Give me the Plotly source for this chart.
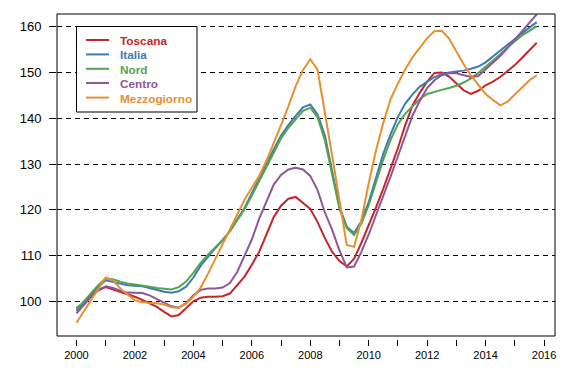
import plotly.graph_objects as go

# quarterly periods 2000Q1 .. 2015Q4
years = [2000 + q / 4 for q in range(64)]

toscana = [98.5, 99.8, 101.2, 102.4, 103.1, 102.6, 102.1, 101.6,
           101.0, 100.3, 99.6, 98.8, 97.7, 96.7, 97.0, 98.4,
           100.0, 100.8, 101.0, 101.0, 101.1, 101.7, 103.5, 105.4,
           108.0, 110.8, 114.6, 118.4, 120.9, 122.4, 122.8, 121.6,
           120.2, 117.3, 113.8, 110.8, 108.8, 107.6, 109.3, 112.8,
           116.5, 120.5, 124.6, 129.0, 133.5, 138.5, 142.8, 145.6,
           148.0, 149.9, 150.0, 149.1, 147.6, 146.1, 145.3, 146.0,
           147.2, 148.0, 149.0, 150.2, 151.6, 153.2, 154.9, 156.5]

italia = [97.9, 99.7, 101.4, 103.2, 104.6, 104.2, 103.8, 103.5,
          103.4, 103.3, 102.9, 102.5, 102.1, 101.9, 102.2, 103.2,
          105.2, 107.8, 109.8, 111.6, 113.3, 115.4, 117.9, 120.4,
          123.6, 126.9, 130.1, 133.2, 136.2, 138.5, 140.5, 142.4,
          143.0, 140.8, 136.2, 128.6, 120.6, 116.3, 114.9, 117.5,
          121.7, 127.0, 132.3, 136.5, 140.3, 143.2, 145.2, 146.9,
          148.0, 149.0, 149.6, 150.0, 150.2, 150.4, 150.8, 151.3,
          152.2, 153.5, 154.8, 156.2, 157.5, 158.6, 159.8, 161.0]

nord = [98.2, 100.0, 101.8, 103.6, 105.0, 104.8, 104.3, 103.9,
        103.7, 103.5, 103.2, 102.9, 102.7, 102.6, 103.1, 104.3,
        106.2, 108.4, 110.2, 111.8, 113.4, 115.3, 117.6, 120.1,
        123.1, 126.3, 129.5, 132.6, 135.6, 137.9, 139.8, 141.6,
        142.3, 140.2, 135.2, 127.8, 120.2, 116.0, 114.5, 117.0,
        121.0, 126.0, 131.0, 135.3, 138.7, 141.0, 142.7, 144.2,
        145.3, 145.8, 146.2, 146.6, 147.1, 147.8, 148.7, 149.9,
        151.2, 152.6, 154.0, 155.5, 156.9, 158.1, 159.1, 160.1]

centro = [97.4, 99.3, 101.0, 102.5, 103.3, 102.9, 102.3, 101.9,
          101.9, 101.8, 101.3, 100.5, 99.7, 98.9, 98.6, 99.6,
          101.3, 102.5, 102.8, 102.8, 103.0, 104.0, 106.4, 109.8,
          113.5, 118.0, 121.8, 125.5, 127.6, 128.8, 129.2, 128.8,
          127.4, 124.3, 119.4, 115.6, 111.1, 107.4, 107.6, 110.8,
          114.6, 118.7, 123.0, 127.3, 131.7, 136.3, 140.6, 143.8,
          146.6, 148.3, 149.4, 149.8, 149.8, 149.4, 149.0, 149.2,
          150.6, 152.2, 153.6, 155.3, 157.2, 159.0, 160.9, 162.7]

mezzogiorno = [95.3, 97.8, 100.0, 102.7, 105.2, 104.6, 102.8, 101.5,
               100.2, 99.8, 99.7, 99.6, 99.3, 98.7, 98.6, 99.5,
               101.0, 103.0, 106.0, 109.2, 112.3, 115.5, 118.7, 122.2,
               124.8, 127.4, 130.7, 134.4, 138.5, 142.6, 147.0, 150.5,
               152.9, 150.6, 141.5, 131.8, 122.0, 112.3, 111.9, 117.8,
               125.8, 133.0, 139.0, 144.2, 147.6, 150.7, 153.3, 155.5,
               157.5, 159.0, 159.1, 157.4, 154.5, 151.8, 149.3, 147.2,
               145.3, 144.0, 142.8, 143.6, 145.2, 146.9, 148.3, 149.4]

series_names = ["Toscana", "Italia", "Nord", "Centro", "Mezzogiorno"]
series_values = [toscana, italia, nord, centro, mezzogiorno]
series_colors = ["#C4272B", "#3C7DB0", "#55A352", "#8E5799", "#E8902E"]

x_tick_vals = list(range(2000, 2017, 2))
y_tick_vals = [100, 110, 120, 130, 140, 150, 160]

FONT = "Liberation Sans, Arial, sans-serif"

W, H = 570, 380
ML, MR, MT, MB = 57, 15, 14, 41

fig = go.Figure()
for name, vals, col in zip(series_names, series_values, series_colors):
    fig.add_trace(go.Scatter(
        x=years, y=vals, mode="lines",
        line=dict(color=col, width=2),
        name=name, showlegend=False,
    ))

fig.update_layout(
    width=W, height=H,
    margin=dict(l=ML, r=MR, t=MT, b=MB, autoexpand=False),
    paper_bgcolor="white", plot_bgcolor="white",
    font=dict(family=FONT, color="black"),
    showlegend=False,
    xaxis=dict(
        range=[1999.333, 2016.375],
        anchor="free", position=0,
        showline=False, showgrid=False, zeroline=False,
        tickmode="array", tickvals=x_tick_vals,
        ticktext=[str(v) for v in x_tick_vals],
        ticks="outside", ticklen=6, tickcolor="black", tickwidth=1,
        tickfont=dict(family=FONT, size=11, color="black"),
        minor=dict(dtick=1, tick0=2000, ticks="outside", ticklen=6,
                   tickcolor="black", tickwidth=1, showgrid=False),
    ),
    yaxis=dict(
        range=[92.42, 162.77],
        domain=[0.0092, 1],
        showline=False, zeroline=False,
        tickmode="array", tickvals=y_tick_vals,
        ticks="outside", ticklen=7, tickcolor="black", tickwidth=1,
        tickfont=dict(family=FONT, size=13, color="black"),
        ticklabelstandoff=5,
        showgrid=True, gridcolor="black", gridwidth=1, griddash="5px,4px",
    ),
)

# plot frame
fig.add_shape(type="rect", xref="x domain", yref="y domain",
              x0=0, x1=1, y0=0, y1=1,
              line=dict(color="black", width=1), fillcolor="rgba(0,0,0,0)",
              layer="above")

# legend drawn by hand (pixel layout converted to paper coords)
pw, ph = W - ML - MR, H - MT - MB
def px(x):
    return (x - ML) / pw
def py(y):
    return (H - MB - y) / ph

fig.add_shape(type="rect", xref="paper", yref="paper",
              x0=px(76.5), x1=px(197), y0=py(112), y1=py(26.5),
              line=dict(color="black", width=1), fillcolor="white",
              layer="above")
rows = [40, 54.4, 68.8, 83.0, 97.6]
for name, col, ry in zip(series_names, series_colors, rows):
    fig.add_shape(type="line", xref="paper", yref="paper",
                  x0=px(86), x1=px(109), y0=py(ry), y1=py(ry),
                  line=dict(color=col, width=2), layer="above")
    fig.add_annotation(xref="paper", yref="paper", x=px(118), y=py(ry + 1),
                       xanchor="left", yanchor="middle", showarrow=False,
                       text=f"<b>{name}</b>",
                       font=dict(family=FONT, size=11.8, color=col))

fig.write_html("out.html", config={"displayModeBar": False},
               post_script="document.body.style.margin='0';")
